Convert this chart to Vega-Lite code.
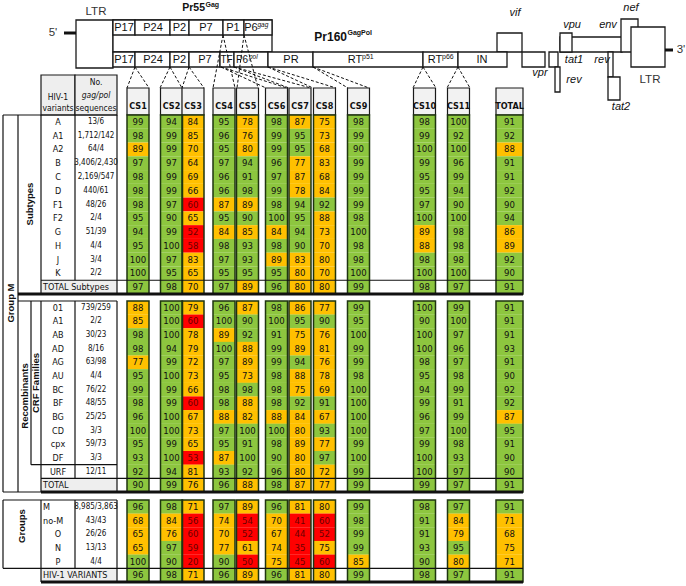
{
"$schema":"https://vega.github.io/schema/vega-lite/v6.json",
"width":686,"height":586,"padding":0,"autosize":{"type":"none"},
"background":"white",
"config":{"view":{"stroke":null},"text":{"baseline":"middle"}},
"datasets":{
"sites":[{"site":"CS1","i":1},{"site":"CS2","i":2},{"site":"CS3","i":3},{"site":"CS4","i":4},{"site":"CS5","i":5},{"site":"CS6","i":6},{"site":"CS7","i":7},{"site":"CS8","i":8},{"site":"CS9","i":9},{"site":"CS10","i":10},{"site":"CS11","i":11},{"site":"TOTAL","i":12}],
"rows":[
{"r":0,"b":"sub","k":"v","v":"A","n":"13/6","CS1":99,"CS2":94,"CS3":84,"CS4":95,"CS5":78,"CS6":98,"CS7":87,"CS8":75,"CS9":98,"CS10":98,"CS11":100,"TOTAL":91},
{"r":1,"b":"sub","k":"v","v":"A1","n":"1,712/142","CS1":98,"CS2":99,"CS3":85,"CS4":96,"CS5":76,"CS6":99,"CS7":95,"CS8":73,"CS9":99,"CS10":99,"CS11":92,"TOTAL":92},
{"r":2,"b":"sub","k":"v","v":"A2","n":"64/4","CS1":89,"CS2":99,"CS3":70,"CS4":95,"CS5":80,"CS6":99,"CS7":95,"CS8":68,"CS9":90,"CS10":100,"CS11":100,"TOTAL":88},
{"r":3,"b":"sub","k":"v","v":"B","n":"3,406/2,430","CS1":97,"CS2":97,"CS3":64,"CS4":97,"CS5":94,"CS6":96,"CS7":77,"CS8":83,"CS9":99,"CS10":99,"CS11":96,"TOTAL":91},
{"r":4,"b":"sub","k":"v","v":"C","n":"2,169/547","CS1":98,"CS2":99,"CS3":69,"CS4":96,"CS5":91,"CS6":97,"CS7":87,"CS8":68,"CS9":99,"CS10":95,"CS11":99,"TOTAL":91},
{"r":5,"b":"sub","k":"v","v":"D","n":"440/61","CS1":98,"CS2":99,"CS3":66,"CS4":96,"CS5":98,"CS6":99,"CS7":78,"CS8":84,"CS9":99,"CS10":95,"CS11":94,"TOTAL":92},
{"r":6,"b":"sub","k":"v","v":"F1","n":"48/26","CS1":98,"CS2":97,"CS3":60,"CS4":87,"CS5":89,"CS6":98,"CS7":94,"CS8":92,"CS9":99,"CS10":97,"CS11":90,"TOTAL":90},
{"r":7,"b":"sub","k":"v","v":"F2","n":"2/4","CS1":95,"CS2":90,"CS3":65,"CS4":95,"CS5":90,"CS6":100,"CS7":95,"CS8":88,"CS9":98,"CS10":100,"CS11":100,"TOTAL":94},
{"r":8,"b":"sub","k":"v","v":"G","n":"51/39","CS1":94,"CS2":99,"CS3":52,"CS4":84,"CS5":85,"CS6":84,"CS7":94,"CS8":73,"CS9":100,"CS10":89,"CS11":98,"TOTAL":86},
{"r":9,"b":"sub","k":"v","v":"H","n":"4/4","CS1":95,"CS2":100,"CS3":58,"CS4":98,"CS5":93,"CS6":98,"CS7":90,"CS8":70,"CS9":98,"CS10":88,"CS11":98,"TOTAL":89},
{"r":10,"b":"sub","k":"v","v":"J","n":"3/4","CS1":100,"CS2":97,"CS3":83,"CS4":97,"CS5":93,"CS6":89,"CS7":83,"CS8":80,"CS9":98,"CS10":98,"CS11":98,"TOTAL":92},
{"r":11,"b":"sub","k":"v","v":"K","n":"2/2","CS1":100,"CS2":95,"CS3":65,"CS4":95,"CS5":95,"CS6":95,"CS7":80,"CS8":70,"CS9":100,"CS10":100,"CS11":100,"TOTAL":90},
{"r":12,"b":"sub","k":"t","v":"TOTAL Subtypes","n":"","CS1":97,"CS2":98,"CS3":70,"CS4":97,"CS5":89,"CS6":96,"CS7":80,"CS8":80,"CS9":99,"CS10":98,"CS11":97,"TOTAL":91},
{"r":14,"b":"rec","k":"v","v":"01","n":"739/259","CS1":88,"CS2":100,"CS3":79,"CS4":96,"CS5":87,"CS6":98,"CS7":86,"CS8":77,"CS9":99,"CS10":100,"CS11":99,"TOTAL":91},
{"r":15,"b":"rec","k":"v","v":"A1","n":"2/2","CS1":85,"CS2":100,"CS3":60,"CS4":100,"CS5":90,"CS6":100,"CS7":95,"CS8":90,"CS9":95,"CS10":90,"CS11":100,"TOTAL":91},
{"r":16,"b":"rec","k":"v","v":"AB","n":"30/23","CS1":98,"CS2":100,"CS3":78,"CS4":89,"CS5":92,"CS6":91,"CS7":75,"CS8":76,"CS9":100,"CS10":100,"CS11":97,"TOTAL":91},
{"r":17,"b":"rec","k":"v","v":"AD","n":"8/16","CS1":98,"CS2":94,"CS3":79,"CS4":100,"CS5":88,"CS6":99,"CS7":89,"CS8":81,"CS9":99,"CS10":100,"CS11":96,"TOTAL":93},
{"r":18,"b":"rec","k":"v","v":"AG","n":"63/98","CS1":77,"CS2":99,"CS3":72,"CS4":97,"CS5":89,"CS6":99,"CS7":94,"CS8":76,"CS9":99,"CS10":98,"CS11":97,"TOTAL":91},
{"r":19,"b":"rec","k":"v","v":"AU","n":"4/4","CS1":95,"CS2":100,"CS3":73,"CS4":95,"CS5":73,"CS6":98,"CS7":88,"CS8":78,"CS9":98,"CS10":95,"CS11":98,"TOTAL":90},
{"r":20,"b":"rec","k":"v","v":"BC","n":"76/22","CS1":99,"CS2":99,"CS3":66,"CS4":98,"CS5":98,"CS6":98,"CS7":75,"CS8":69,"CS9":100,"CS10":94,"CS11":99,"TOTAL":92},
{"r":21,"b":"rec","k":"v","v":"BF","n":"48/55","CS1":98,"CS2":99,"CS3":60,"CS4":98,"CS5":88,"CS6":98,"CS7":92,"CS8":91,"CS9":100,"CS10":99,"CS11":91,"TOTAL":92},
{"r":22,"b":"rec","k":"v","v":"BG","n":"25/25","CS1":96,"CS2":100,"CS3":67,"CS4":88,"CS5":82,"CS6":88,"CS7":84,"CS8":67,"CS9":100,"CS10":96,"CS11":99,"TOTAL":87},
{"r":23,"b":"rec","k":"v","v":"CD","n":"3/3","CS1":100,"CS2":100,"CS3":73,"CS4":97,"CS5":100,"CS6":100,"CS7":80,"CS8":93,"CS9":100,"CS10":97,"CS11":100,"TOTAL":95},
{"r":24,"b":"rec","k":"v","v":"cpx","n":"59/73","CS1":95,"CS2":99,"CS3":65,"CS4":95,"CS5":91,"CS6":98,"CS7":89,"CS8":77,"CS9":99,"CS10":99,"CS11":98,"TOTAL":91},
{"r":25,"b":"rec","k":"v","v":"DF","n":"3/3","CS1":93,"CS2":100,"CS3":53,"CS4":87,"CS5":100,"CS6":90,"CS7":80,"CS8":97,"CS9":100,"CS10":100,"CS11":93,"TOTAL":90},
{"r":26,"b":"rec","k":"v","v":"URF","n":"12/11","CS1":92,"CS2":94,"CS3":81,"CS4":93,"CS5":92,"CS6":96,"CS7":80,"CS8":72,"CS9":99,"CS10":100,"CS11":97,"TOTAL":90},
{"r":27,"b":"rec","k":"t","v":"TOTAL","n":"","CS1":90,"CS2":99,"CS3":76,"CS4":96,"CS5":88,"CS6":98,"CS7":87,"CS8":77,"CS9":99,"CS10":99,"CS11":97,"TOTAL":91},
{"r":29,"b":"grp","k":"v","v":"M","n":"8,985/3,863","CS1":96,"CS2":98,"CS3":71,"CS4":97,"CS5":89,"CS6":96,"CS7":81,"CS8":80,"CS9":99,"CS10":98,"CS11":97,"TOTAL":91},
{"r":30,"b":"grp","k":"v","v":"no-M","n":"43/43","CS1":68,"CS2":84,"CS3":56,"CS4":74,"CS5":54,"CS6":70,"CS7":41,"CS8":60,"CS9":98,"CS10":91,"CS11":84,"TOTAL":71},
{"r":31,"b":"grp","k":"v","v":"O","n":"26/26","CS1":65,"CS2":76,"CS3":60,"CS4":70,"CS5":52,"CS6":67,"CS7":44,"CS8":52,"CS9":99,"CS10":91,"CS11":79,"TOTAL":68},
{"r":32,"b":"grp","k":"v","v":"N","n":"13/13","CS1":65,"CS2":97,"CS3":59,"CS4":77,"CS5":61,"CS6":74,"CS7":35,"CS8":75,"CS9":99,"CS10":93,"CS11":95,"TOTAL":75},
{"r":33,"b":"grp","k":"v","v":"P","n":"4/4","CS1":100,"CS2":90,"CS3":20,"CS4":90,"CS5":50,"CS6":75,"CS7":45,"CS8":60,"CS9":85,"CS10":90,"CS11":80,"TOTAL":71},
{"r":34,"b":"grp","k":"t","v":"HIV-1 VARIANTS","n":"","CS1":96,"CS2":98,"CS3":71,"CS4":96,"CS5":89,"CS6":96,"CS7":81,"CS8":80,"CS9":99,"CS10":98,"CS11":97,"TOTAL":91}
],
"genes":[
{"n":"LTR5","x0":76,"x1":113,"y0":20,"y1":68},
{"n":"gagframe","x0":113,"x1":272,"y0":20,"y1":52},
{"n":"P17g","x0":113,"x1":135,"y0":20,"y1":35},
{"n":"P24g","x0":135,"x1":170,"y0":20,"y1":35},
{"n":"P2g","x0":170,"x1":189,"y0":20,"y1":35},
{"n":"P7g","x0":189,"x1":223,"y0":20,"y1":35},
{"n":"P1g","x0":223,"x1":244,"y0":20,"y1":35},
{"n":"P6g","x0":244,"x1":272,"y0":20,"y1":35},
{"n":"vif","x0":497,"x1":522,"y0":33,"y1":52},
{"n":"P17p","x0":113,"x1":135,"y0":52,"y1":67},
{"n":"P24p","x0":135,"x1":170,"y0":52,"y1":67},
{"n":"P2p","x0":170,"x1":189,"y0":52,"y1":67},
{"n":"P7p","x0":189,"x1":220,"y0":52,"y1":67},
{"n":"TF","x0":220,"x1":234,"y0":52,"y1":67},
{"n":"P6p","x0":234,"x1":268,"y0":52,"y1":67},
{"n":"PR","x0":268,"x1":313,"y0":52,"y1":67},
{"n":"RT51","x0":313,"x1":423,"y0":52,"y1":67},
{"n":"RT66","x0":423,"x1":458,"y0":52,"y1":67},
{"n":"IN","x0":458,"x1":507,"y0":52,"y1":67},
{"n":"vpr","x0":522,"x1":545,"y0":52,"y1":67},
{"n":"tat1","x0":549,"x1":558,"y0":52,"y1":67},
{"n":"rev1","x0":555,"x1":560,"y0":67,"y1":92},
{"n":"env","x0":560,"x1":622,"y0":37,"y1":52},
{"n":"vpu","x0":560,"x1":572,"y0":33,"y1":52},
{"n":"rev2","x0":608,"x1":613,"y0":52,"y1":77},
{"n":"tat2","x0":608,"x1":620,"y0":77,"y1":100},
{"n":"nef","x0":621,"x1":638,"y0":19,"y1":52},
{"n":"LTR3","x0":631,"x1":665,"y0":27,"y1":67}
],
"glines":[{"x0":64,"x1":76,"y":33},{"x0":665,"x1":673,"y":50}],
"links":[
{"xa":135,"ya":67,"xb":127,"yb":88},{"xa":135,"ya":67,"xb":149,"yb":88},
{"xa":170,"ya":67,"xb":160,"yb":88},{"xa":170,"ya":67,"xb":182,"yb":88},
{"xa":189,"ya":67,"xb":182,"yb":88},{"xa":189,"ya":67,"xb":204,"yb":88},
{"xa":223,"ya":35,"xb":213,"yb":88},{"xa":223,"ya":35,"xb":235,"yb":88},
{"xa":244,"ya":35,"xb":237,"yb":88},{"xa":244,"ya":35,"xb":258,"yb":88},
{"xa":221,"ya":67,"xb":266,"yb":88},{"xa":221,"ya":67,"xb":287,"yb":88},
{"xa":234,"ya":67,"xb":289,"yb":88},{"xa":234,"ya":67,"xb":311,"yb":88},
{"xa":268,"ya":67,"xb":313,"yb":88},{"xa":268,"ya":67,"xb":336,"yb":88},
{"xa":313,"ya":67,"xb":348,"yb":88},{"xa":313,"ya":67,"xb":369,"yb":88},
{"xa":423,"ya":67,"xb":413,"yb":88},{"xa":423,"ya":67,"xb":436,"yb":88},
{"xa":458,"ya":67,"xb":447,"yb":88},{"xa":458,"ya":67,"xb":470,"yb":88}
],
"gtext":[
{"t":"LTR","x":96,"y":12,"k":"ltr"},{"t":"LTR","x":650,"y":80,"k":"ltr2"},
{"t":"5'","x":53,"y":33,"k":"end"},{"t":"3'","x":681,"y":50,"k":"end"},
{"t":"Pr55","x":205,"y":8,"k":"title"},{"t":"Gag","x":205.5,"y":5,"k":"tsup"},
{"t":"Pr160","x":347,"y":37,"k":"title2"},{"t":"GagPol","x":347.5,"y":33,"k":"tsup"},
{"t":"P17","x":124,"y":28,"k":"seg"},{"t":"P24","x":153,"y":28,"k":"seg"},{"t":"P2","x":179.5,"y":28,"k":"seg"},{"t":"P7","x":206,"y":28,"k":"seg"},{"t":"P1","x":233,"y":28,"k":"seg"},{"t":"P6","x":251,"y":28,"k":"seg"},
{"t":"gag","x":257.5,"y":25,"k":"sup"},
{"t":"P17","x":124,"y":60,"k":"seg"},{"t":"P24","x":153,"y":60,"k":"seg"},{"t":"P2","x":179.5,"y":60,"k":"seg"},{"t":"P7","x":205,"y":60,"k":"seg"},{"t":"TF","x":226.5,"y":60,"k":"segs"},{"t":"P6","x":242,"y":60,"k":"segs"},
{"t":"pol","x":249,"y":57,"k":"sup"},
{"t":"PR","x":291,"y":60,"k":"seg"},{"t":"RT","x":355,"y":60,"k":"seg"},{"t":"p51","x":362,"y":57,"k":"supn"},
{"t":"RT","x":435,"y":60,"k":"seg"},{"t":"p66","x":442,"y":57,"k":"supn"},{"t":"IN","x":482,"y":60,"k":"seg"},
{"t":"vif","x":515,"y":13,"k":"gene"},{"t":"vpr","x":540,"y":73,"k":"gene"},{"t":"vpu","x":572,"y":25,"k":"gene"},{"t":"env","x":608,"y":25,"k":"gene"},{"t":"nef","x":631,"y":8,"k":"gene"},
{"t":"tat1","x":574,"y":60,"k":"gene"},{"t":"rev","x":602,"y":60,"k":"gene"},{"t":"rev","x":574,"y":80,"k":"gene"},{"t":"tat2","x":621,"y":107,"k":"gene"}
],
"heads":[{"x0":41,"x1":75},{"x0":75,"x1":117}],
"headtxt":[{"t":"HIV-1","x":58,"y":97},{"t":"variants","x":58,"y":108},{"t":"No.","x":96,"y":82},{"t":"gag/pol","x":96,"y":95},{"t":"sequences","x":96,"y":108}],
"hthin":[{"r":-0.5,"x0":3,"x1":117},{"r":11.5,"x0":41,"x1":523},{"r":13.5,"x0":18,"x1":117},{"r":25.5,"x0":31,"x1":117},{"r":26.5,"x0":41,"x1":523},{"r":27.5,"x0":3,"x1":41},{"r":28.5,"x0":3,"x1":117},{"r":33.5,"x0":3,"x1":523}],
"hthick":[{"r":12.5,"x0":18,"x1":523},{"r":27.5,"x0":41,"x1":523},{"r":34.5,"x0":41,"x1":523}],
"vl":[{"x":3,"r0":-0.5,"r1":27.5},{"x":18,"r0":-0.5,"r1":27.5},{"x":41,"r0":-0.5,"r1":12.5},{"x":117,"r0":-0.5,"r1":12.5},{"x":75,"r0":-0.5,"r1":11.5},
{"x":31,"r0":13.5,"r1":25.5},{"x":41,"r0":13.5,"r1":27.5},{"x":75,"r0":13.5,"r1":26.5},{"x":117,"r0":13.5,"r1":27.5},
{"x":3,"r0":28.5,"r1":33.5},{"x":41,"r0":28.5,"r1":34.5},{"x":75,"r0":28.5,"r1":33.5},{"x":117,"r0":28.5,"r1":34.5}],
"side":[{"t":"Group M","x":10.5,"y":303},{"t":"Subtypes","x":29.5,"y":204},{"t":"Recombinants","x":24.5,"y":396},{"t":"CRF Families","x":36,"y":383},{"t":"Groups","x":22,"y":526}]
},
"resolve":{"scale":{"x":"independent","y":"independent","color":"independent"}},
"layer":[
{"data":{"name":"genes"},"mark":{"type":"rect","fill":"white","stroke":"#1a1a1a","strokeWidth":1.3},
 "encoding":{"x":{"field":"x0","type":"quantitative","scale":{"domain":[0,686],"range":[0,686],"zero":false,"nice":false},"axis":null},"x2":{"field":"x1"},
 "y":{"field":"y0","type":"quantitative","scale":{"domain":[0,586],"range":[0,586],"zero":false,"nice":false},"axis":null},"y2":{"field":"y1"}}},
{"data":{"name":"glines"},"mark":{"type":"rule","stroke":"#111","strokeWidth":3},
 "encoding":{"x":{"field":"x0","type":"quantitative","scale":{"domain":[0,686],"range":[0,686],"zero":false,"nice":false},"axis":null},"x2":{"field":"x1"},
 "y":{"field":"y","type":"quantitative","scale":{"domain":[0,586],"range":[0,586],"zero":false,"nice":false},"axis":null}}},
{"data":{"name":"links"},"mark":{"type":"rule","stroke":"#111","strokeWidth":1,"strokeDash":[3,2]},
 "encoding":{"x":{"field":"xa","type":"quantitative","scale":{"domain":[0,686],"range":[0,686],"zero":false,"nice":false},"axis":null},"x2":{"field":"xb"},
 "y":{"field":"ya","type":"quantitative","scale":{"domain":[0,586],"range":[0,586],"zero":false,"nice":false},"axis":null},"y2":{"field":"yb"}}},
{"data":{"name":"gtext"},"transform":[{"filter":"datum.k === 'seg'"}],"mark":{"type":"text","font":"Liberation Sans, Arial, sans-serif","fontSize":11,"color":"#111","align":"center"},
 "encoding":{"x":{"field":"x","type":"quantitative","scale":{"domain":[0,686],"range":[0,686],"zero":false,"nice":false},"axis":null},
 "y":{"field":"y","type":"quantitative","scale":{"domain":[0,586],"range":[0,586],"zero":false,"nice":false},"axis":null},"text":{"field":"t"}}},
{"data":{"name":"gtext"},"transform":[{"filter":"datum.k === 'segs'"}],"mark":{"type":"text","font":"Liberation Sans, Arial, sans-serif","fontSize":10,"color":"#111","align":"center"},
 "encoding":{"x":{"field":"x","type":"quantitative","scale":{"domain":[0,686],"range":[0,686],"zero":false,"nice":false},"axis":null},
 "y":{"field":"y","type":"quantitative","scale":{"domain":[0,586],"range":[0,586],"zero":false,"nice":false},"axis":null},"text":{"field":"t"}}},
{"data":{"name":"gtext"},"transform":[{"filter":"datum.k === 'sup'"}],"mark":{"type":"text","font":"Liberation Sans, Arial, sans-serif","fontSize":6.5,"fontStyle":"italic","color":"#111","align":"left"},
 "encoding":{"x":{"field":"x","type":"quantitative","scale":{"domain":[0,686],"range":[0,686],"zero":false,"nice":false},"axis":null},
 "y":{"field":"y","type":"quantitative","scale":{"domain":[0,586],"range":[0,586],"zero":false,"nice":false},"axis":null},"text":{"field":"t"}}},
{"data":{"name":"gtext"},"transform":[{"filter":"datum.k === 'supn'"}],"mark":{"type":"text","font":"Liberation Sans, Arial, sans-serif","fontSize":7,"color":"#111","align":"left"},
 "encoding":{"x":{"field":"x","type":"quantitative","scale":{"domain":[0,686],"range":[0,686],"zero":false,"nice":false},"axis":null},
 "y":{"field":"y","type":"quantitative","scale":{"domain":[0,586],"range":[0,586],"zero":false,"nice":false},"axis":null},"text":{"field":"t"}}},
{"data":{"name":"gtext"},"transform":[{"filter":"datum.k === 'gene'"}],"mark":{"type":"text","font":"Liberation Sans, Arial, sans-serif","fontSize":11,"fontStyle":"italic","color":"#111","align":"center"},
 "encoding":{"x":{"field":"x","type":"quantitative","scale":{"domain":[0,686],"range":[0,686],"zero":false,"nice":false},"axis":null},
 "y":{"field":"y","type":"quantitative","scale":{"domain":[0,586],"range":[0,586],"zero":false,"nice":false},"axis":null},"text":{"field":"t"}}},
{"data":{"name":"gtext"},"transform":[{"filter":"datum.k === 'ltr' || datum.k === 'ltr2' || datum.k === 'end'"}],"mark":{"type":"text","font":"Liberation Sans, Arial, sans-serif","fontSize":11.5,"color":"#333","align":"center"},
 "encoding":{"x":{"field":"x","type":"quantitative","scale":{"domain":[0,686],"range":[0,686],"zero":false,"nice":false},"axis":null},
 "y":{"field":"y","type":"quantitative","scale":{"domain":[0,586],"range":[0,586],"zero":false,"nice":false},"axis":null},"text":{"field":"t"}}},
{"data":{"name":"gtext"},"transform":[{"filter":"datum.k === 'title'"}],"mark":{"type":"text","font":"Liberation Sans, Arial, sans-serif","fontSize":10.5,"fontWeight":"bold","color":"#111","align":"right"},
 "encoding":{"x":{"field":"x","type":"quantitative","scale":{"domain":[0,686],"range":[0,686],"zero":false,"nice":false},"axis":null},
 "y":{"field":"y","type":"quantitative","scale":{"domain":[0,586],"range":[0,586],"zero":false,"nice":false},"axis":null},"text":{"field":"t"}}},
{"data":{"name":"gtext"},"transform":[{"filter":"datum.k === 'title2'"}],"mark":{"type":"text","font":"Liberation Sans, Arial, sans-serif","fontSize":12,"fontWeight":"bold","color":"#111","align":"right"},
 "encoding":{"x":{"field":"x","type":"quantitative","scale":{"domain":[0,686],"range":[0,686],"zero":false,"nice":false},"axis":null},
 "y":{"field":"y","type":"quantitative","scale":{"domain":[0,586],"range":[0,586],"zero":false,"nice":false},"axis":null},"text":{"field":"t"}}},
{"data":{"name":"gtext"},"transform":[{"filter":"datum.k === 'tsup'"}],"mark":{"type":"text","font":"Liberation Sans, Arial, sans-serif","fontSize":7,"fontWeight":"bold","color":"#111","align":"left"},
 "encoding":{"x":{"field":"x","type":"quantitative","scale":{"domain":[0,686],"range":[0,686],"zero":false,"nice":false},"axis":null},
 "y":{"field":"y","type":"quantitative","scale":{"domain":[0,586],"range":[0,586],"zero":false,"nice":false},"axis":null},"text":{"field":"t"}}},
{"data":{"name":"sites"},"transform":[{"filter":"datum.site !== 'TOTAL'"}],"mark":{"type":"rect","width":22,"fill":"#f2f2f2","stroke":"#1a1a1a","strokeWidth":1.2},
 "encoding":{"x":{"field":"i","type":"quantitative","scale":{"domain":[1,2,3,4,5,6,7,8,9,10,11,12],"range":[138,171.5,193,224,247.5,276.5,300,324.5,358.5,424.5,458.5,509.5],"zero":false,"nice":false},"axis":null},
 "y":{"datum":88,"type":"quantitative","scale":{"domain":[0,586],"range":[0,586],"zero":false,"nice":false},"axis":null},"y2":{"datum":115}}},
{"data":{"name":"sites"},"transform":[{"filter":"datum.site === 'TOTAL'"}],"mark":{"type":"rect","width":27,"fill":"#f2f2f2","stroke":"#1a1a1a","strokeWidth":1.2},
 "encoding":{"x":{"field":"i","type":"quantitative","scale":{"domain":[1,2,3,4,5,6,7,8,9,10,11,12],"range":[138,171.5,193,224,247.5,276.5,300,324.5,358.5,424.5,458.5,509.5],"zero":false,"nice":false},"axis":null},
 "y":{"datum":88,"type":"quantitative","scale":{"domain":[0,586],"range":[0,586],"zero":false,"nice":false},"axis":null},"y2":{"datum":115}}},
{"data":{"name":"sites"},"mark":{"type":"text","font":"DejaVu Sans Condensed, Liberation Sans Narrow, sans-serif","fontSize":9,"fontWeight":"bold","color":"#111"},
 "encoding":{"x":{"field":"i","type":"quantitative","scale":{"domain":[1,2,3,4,5,6,7,8,9,10,11,12],"range":[138,171.5,193,224,247.5,276.5,300,324.5,358.5,424.5,458.5,509.5],"zero":false,"nice":false},"axis":null},
 "y":{"datum":106,"type":"quantitative","scale":{"domain":[0,586],"range":[0,586],"zero":false,"nice":false},"axis":null},"text":{"field":"site"}}},
{"data":{"name":"heads"},"mark":{"type":"rect","fill":"#eeeeee","stroke":"#1a1a1a","strokeWidth":1.2},
 "encoding":{"x":{"field":"x0","type":"quantitative","scale":{"domain":[0,686],"range":[0,686],"zero":false,"nice":false},"axis":null},"x2":{"field":"x1"},
 "y":{"datum":75,"type":"quantitative","scale":{"domain":[0,586],"range":[0,586],"zero":false,"nice":false},"axis":null},"y2":{"datum":115}}},
{"data":{"name":"headtxt"},"transform":[{"filter":"datum.t !== 'gag/pol'"}],"mark":{"type":"text","font":"DejaVu Sans Condensed, Liberation Sans Narrow, sans-serif","fontSize":8.5,"color":"#111"},
 "encoding":{"x":{"field":"x","type":"quantitative","scale":{"domain":[0,686],"range":[0,686],"zero":false,"nice":false},"axis":null},
 "y":{"field":"y","type":"quantitative","scale":{"domain":[0,586],"range":[0,586],"zero":false,"nice":false},"axis":null},"text":{"field":"t"}}},
{"data":{"name":"headtxt"},"transform":[{"filter":"datum.t === 'gag/pol'"}],"mark":{"type":"text","font":"DejaVu Sans Condensed, Liberation Sans Narrow, sans-serif","fontSize":8.5,"fontStyle":"italic","color":"#111"},
 "encoding":{"x":{"field":"x","type":"quantitative","scale":{"domain":[0,686],"range":[0,686],"zero":false,"nice":false},"axis":null},
 "y":{"field":"y","type":"quantitative","scale":{"domain":[0,586],"range":[0,586],"zero":false,"nice":false},"axis":null},"text":{"field":"t"}}},
{"data":{"name":"rows"},"transform":[{"filter":"datum.k === 't'"}],"mark":{"type":"rect","height":13.7,"fill":"#eeeeee"},
 "encoding":{"x":{"datum":41,"type":"quantitative","scale":{"domain":[0,686],"range":[0,686],"zero":false,"nice":false},"axis":null},"x2":{"datum":117},
 "y":{"field":"r","type":"quantitative","scale":{"domain":[-0.5,12.5,13.5,27.5,28.5,34.5],"range":[115,294,301,492,500,582],"zero":false,"nice":false},"axis":null}}},
{"data":{"name":"rows"},"transform":[{"fold":["CS1","CS2","CS3","CS4","CS5","CS6","CS7","CS8","CS9","CS10","CS11","TOTAL"],"as":["site","val"]},{"lookup":"site","from":{"data":{"name":"sites"},"key":"site","fields":["i"]}},{"filter":"datum.site !== 'TOTAL'"}],
 "mark":{"type":"rect","width":22,"height":13.8},
 "encoding":{"x":{"field":"i","type":"quantitative","scale":{"domain":[1,2,3,4,5,6,7,8,9,10,11,12],"range":[138,171.5,193,224,247.5,276.5,300,324.5,358.5,424.5,458.5,509.5],"zero":false,"nice":false},"axis":null},
 "y":{"field":"r","type":"quantitative","scale":{"domain":[-0.5,12.5,13.5,27.5,28.5,34.5],"range":[115,294,301,492,500,582],"zero":false,"nice":false},"axis":null},
 "color":{"field":"val","type":"quantitative","scale":{"type":"threshold","domain":[60.5,89.5],"range":["#ff0000","#ffc000","#8dc63f"]},"legend":null}}},
{"data":{"name":"rows"},"transform":[{"fold":["CS1","CS2","CS3","CS4","CS5","CS6","CS7","CS8","CS9","CS10","CS11","TOTAL"],"as":["site","val"]},{"lookup":"site","from":{"data":{"name":"sites"},"key":"site","fields":["i"]}},{"filter":"datum.site === 'TOTAL'"}],
 "mark":{"type":"rect","width":27,"height":13.8},
 "encoding":{"x":{"field":"i","type":"quantitative","scale":{"domain":[1,2,3,4,5,6,7,8,9,10,11,12],"range":[138,171.5,193,224,247.5,276.5,300,324.5,358.5,424.5,458.5,509.5],"zero":false,"nice":false},"axis":null},
 "y":{"field":"r","type":"quantitative","scale":{"domain":[-0.5,12.5,13.5,27.5,28.5,34.5],"range":[115,294,301,492,500,582],"zero":false,"nice":false},"axis":null},
 "color":{"field":"val","type":"quantitative","scale":{"type":"threshold","domain":[60.5,89.5],"range":["#ff0000","#ffc000","#8dc63f"]},"legend":null}}},
{"data":{"name":"rows"},"transform":[{"fold":["CS1","CS2","CS3","CS4","CS5","CS6","CS7","CS8","CS9","CS10","CS11","TOTAL"],"as":["site","val"]},{"lookup":"site","from":{"data":{"name":"sites"},"key":"site","fields":["i"]}}],
 "mark":{"type":"text","font":"DejaVu Sans Condensed, Liberation Sans Narrow, sans-serif","fontSize":9.5},
 "encoding":{"x":{"field":"i","type":"quantitative","scale":{"domain":[1,2,3,4,5,6,7,8,9,10,11,12],"range":[138,171.5,193,224,247.5,276.5,300,324.5,358.5,424.5,458.5,509.5],"zero":false,"nice":false},"axis":null},
 "y":{"field":"r","type":"quantitative","scale":{"domain":[-0.5,12.5,13.5,27.5,28.5,34.5],"range":[115,294,301,492,500,582],"zero":false,"nice":false},"axis":null},
 "text":{"field":"val"},
 "color":{"field":"val","type":"quantitative","scale":{"type":"threshold","domain":[60.5,89.5],"range":["#6a0000","#111111","#111111"]},"legend":null}}},
{"data":{"name":"rows"},"transform":[{"fold":["CS1","CS2","CS3","CS4","CS5","CS6","CS7","CS8","CS9","CS10","CS11","TOTAL"],"as":["site","val"]},{"lookup":"site","from":{"data":{"name":"sites"},"key":"site","fields":["i"]}},{"aggregate":[{"op":"min","field":"r","as":"r0"},{"op":"max","field":"r","as":"r1"}],"groupby":["b","site","i"]},{"filter":"datum.site !== 'TOTAL'"}],
 "mark":{"type":"rect","width":22,"filled":false,"stroke":"#1f3510","strokeWidth":1.5,"yOffset":-6.85,"y2Offset":6.85},
 "encoding":{"x":{"field":"i","type":"quantitative","scale":{"domain":[1,2,3,4,5,6,7,8,9,10,11,12],"range":[138,171.5,193,224,247.5,276.5,300,324.5,358.5,424.5,458.5,509.5],"zero":false,"nice":false},"axis":null},
 "y":{"field":"r0","type":"quantitative","scale":{"domain":[-0.5,12.5,13.5,27.5,28.5,34.5],"range":[115,294,301,492,500,582],"zero":false,"nice":false},"axis":null},"y2":{"field":"r1"}}},
{"data":{"name":"rows"},"transform":[{"fold":["CS1","CS2","CS3","CS4","CS5","CS6","CS7","CS8","CS9","CS10","CS11","TOTAL"],"as":["site","val"]},{"lookup":"site","from":{"data":{"name":"sites"},"key":"site","fields":["i"]}},{"aggregate":[{"op":"min","field":"r","as":"r0"},{"op":"max","field":"r","as":"r1"}],"groupby":["b","site","i"]},{"filter":"datum.site === 'TOTAL'"}],
 "mark":{"type":"rect","width":27,"filled":false,"stroke":"#1f3510","strokeWidth":1.5,"yOffset":-6.85,"y2Offset":6.85},
 "encoding":{"x":{"field":"i","type":"quantitative","scale":{"domain":[1,2,3,4,5,6,7,8,9,10,11,12],"range":[138,171.5,193,224,247.5,276.5,300,324.5,358.5,424.5,458.5,509.5],"zero":false,"nice":false},"axis":null},
 "y":{"field":"r0","type":"quantitative","scale":{"domain":[-0.5,12.5,13.5,27.5,28.5,34.5],"range":[115,294,301,492,500,582],"zero":false,"nice":false},"axis":null},"y2":{"field":"r1"}}},
{"data":{"name":"hthin"},"mark":{"type":"rule","stroke":"#111","strokeWidth":1.2},
 "encoding":{"x":{"field":"x0","type":"quantitative","scale":{"domain":[0,686],"range":[0,686],"zero":false,"nice":false},"axis":null},"x2":{"field":"x1"},
 "y":{"field":"r","type":"quantitative","scale":{"domain":[-0.5,12.5,13.5,27.5,28.5,34.5],"range":[115,294,301,492,500,582],"zero":false,"nice":false},"axis":null}}},
{"data":{"name":"hthick"},"mark":{"type":"rule","stroke":"#111","strokeWidth":3},
 "encoding":{"x":{"field":"x0","type":"quantitative","scale":{"domain":[0,686],"range":[0,686],"zero":false,"nice":false},"axis":null},"x2":{"field":"x1"},
 "y":{"field":"r","type":"quantitative","scale":{"domain":[-0.5,12.5,13.5,27.5,28.5,34.5],"range":[115,294,301,492,500,582],"zero":false,"nice":false},"axis":null}}},
{"data":{"name":"vl"},"mark":{"type":"rule","stroke":"#111","strokeWidth":1.2},
 "encoding":{"x":{"field":"x","type":"quantitative","scale":{"domain":[0,686],"range":[0,686],"zero":false,"nice":false},"axis":null},
 "y":{"field":"r0","type":"quantitative","scale":{"domain":[-0.5,12.5,13.5,27.5,28.5,34.5],"range":[115,294,301,492,500,582],"zero":false,"nice":false},"axis":null},"y2":{"field":"r1"}}},
{"data":{"name":"rows"},"transform":[{"filter":"datum.k === 'v' && datum.v !== 'M' && datum.v !== 'no-M'"}],"mark":{"type":"text","font":"DejaVu Sans Condensed, Liberation Sans Narrow, sans-serif","fontSize":9,"color":"#111"},
 "encoding":{"x":{"datum":58,"type":"quantitative","scale":{"domain":[0,686],"range":[0,686],"zero":false,"nice":false},"axis":null},
 "y":{"field":"r","type":"quantitative","scale":{"domain":[-0.5,12.5,13.5,27.5,28.5,34.5],"range":[115,294,301,492,500,582],"zero":false,"nice":false},"axis":null},"text":{"field":"v"}}},
{"data":{"name":"rows"},"transform":[{"filter":"datum.v === 'M' || datum.v === 'no-M' || datum.k === 't'"}],"mark":{"type":"text","font":"DejaVu Sans Condensed, Liberation Sans Narrow, sans-serif","fontSize":9,"color":"#111","align":"left"},
 "encoding":{"x":{"datum":43,"type":"quantitative","scale":{"domain":[0,686],"range":[0,686],"zero":false,"nice":false},"axis":null},
 "y":{"field":"r","type":"quantitative","scale":{"domain":[-0.5,12.5,13.5,27.5,28.5,34.5],"range":[115,294,301,492,500,582],"zero":false,"nice":false},"axis":null},"text":{"field":"v"}}},
{"data":{"name":"rows"},"transform":[{"filter":"datum.k === 'v'"}],"mark":{"type":"text","font":"DejaVu Sans Condensed, Liberation Sans Narrow, sans-serif","fontSize":8,"color":"#111"},
 "encoding":{"x":{"datum":96,"type":"quantitative","scale":{"domain":[0,686],"range":[0,686],"zero":false,"nice":false},"axis":null},
 "y":{"field":"r","type":"quantitative","scale":{"domain":[-0.5,12.5,13.5,27.5,28.5,34.5],"range":[115,294,301,492,500,582],"zero":false,"nice":false},"axis":null},"text":{"field":"n"}}},
{"data":{"name":"side"},"mark":{"type":"text","font":"Liberation Sans, Arial, sans-serif","fontSize":9.5,"fontWeight":"bold","color":"#111","angle":270},
 "encoding":{"x":{"field":"x","type":"quantitative","scale":{"domain":[0,686],"range":[0,686],"zero":false,"nice":false},"axis":null},
 "y":{"field":"y","type":"quantitative","scale":{"domain":[0,586],"range":[0,586],"zero":false,"nice":false},"axis":null},"text":{"field":"t"}}}
]
}
